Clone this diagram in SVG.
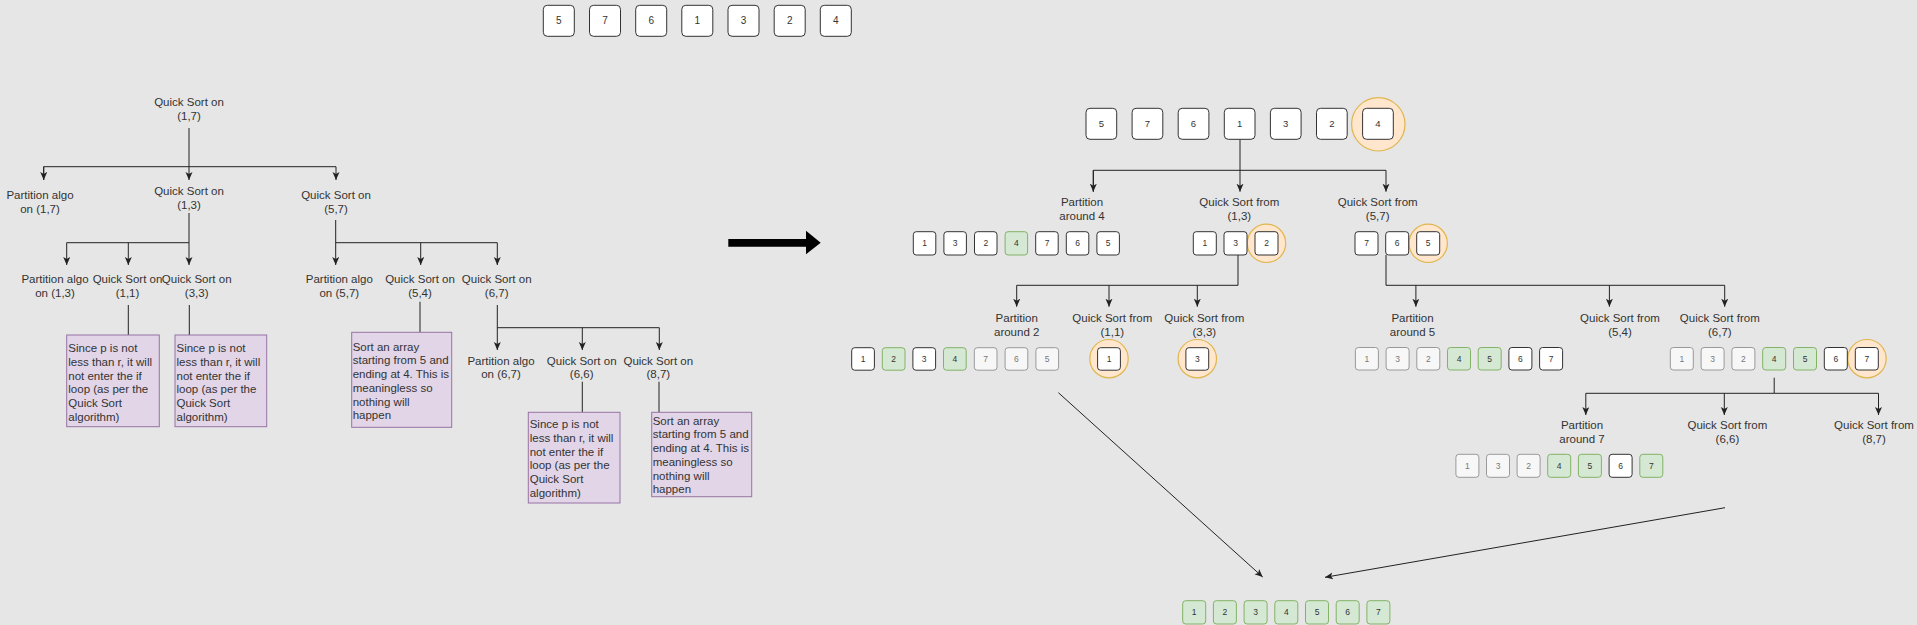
<svg xmlns="http://www.w3.org/2000/svg" width="1917" height="625" viewBox="0 0 1917 625">
<style>
text{font-family:"Liberation Sans",Arial,sans-serif;fill:#333}
.lbl{font-size:11.5px;text-anchor:middle}
.note{font-size:11.5px}
.num{font-size:8.5px;text-anchor:middle}
.bnum{font-size:10px;text-anchor:middle}
.w{fill:#fff;stroke:#333;stroke-width:1}
.g{fill:#d5e8d4;stroke:#82b366;stroke-width:1}
.l{fill:#f7f7f7;stroke:#999;stroke-width:1}
.lt{fill:#777}
.c{fill:#ffe6cc;stroke:#e0b650;stroke-width:1.2}
.p{fill:#e1d5e7;stroke:#9673a6;stroke-width:1}
.e{fill:none;stroke:#222;stroke-width:1}
</style>
<defs>
<marker id="ar" markerUnits="userSpaceOnUse" markerWidth="9" markerHeight="8" refX="8" refY="3.5" orient="auto">
<path d="M0,0 L8,3.5 L0,7 L2,3.5 z" fill="#222"/>
</marker>
</defs>
<rect width="1917" height="625" fill="#e6e6e6"/>

<!-- connectors -->
<g id="connectors">
<path class="e" d="M189,128 V180" marker-end="url(#ar)"/>
<path class="e" d="M43.7,180 V166.7 H336 V180" marker-end="url(#ar)"/>
<path class="e" d="M43.7,166.7 V180" marker-end="url(#ar)"/>
<path class="e" d="M189,213 V265" marker-end="url(#ar)"/>
<path class="e" d="M189,242.7 H66.7 V265" marker-end="url(#ar)"/>
<path class="e" d="M128.3,242.7 V265" marker-end="url(#ar)"/>
<path class="e" d="M335.7,220 V265" marker-end="url(#ar)"/>
<path class="e" d="M335.7,242.7 H497.3 V265" marker-end="url(#ar)"/>
<path class="e" d="M420.7,242.7 V265" marker-end="url(#ar)"/>
<path class="e" d="M128.3,305 V335"/>
<path class="e" d="M189.3,305 V335"/>
<path class="e" d="M420,301.7 V332.3"/>
<path class="e" d="M497.3,305 V350" marker-end="url(#ar)"/>
<path class="e" d="M497.3,327.7 H659.3 V350" marker-end="url(#ar)"/>
<path class="e" d="M582.3,327.7 V350" marker-end="url(#ar)"/>
<path class="e" d="M582.3,381.7 V412.3"/>
<path class="e" d="M659,381.7 V412.3"/>
<polygon points="728.3,239 806,239 806,230.7 820.7,242.8 806,254.3 806,246.7 728.3,246.7" fill="#000"/>
<path class="e" d="M1240,139.3 V191.7" marker-end="url(#ar)"/>
<path class="e" d="M1093.3,191.7 V170.3 H1386 V191.7" marker-end="url(#ar)"/>
<path class="e" d="M1093.3,170.3 V191.7" marker-end="url(#ar)"/>
<path class="e" d="M1238,255 V285.3 H1016.7 V306.7" marker-end="url(#ar)"/>
<path class="e" d="M1109,285.3 V306.7" marker-end="url(#ar)"/>
<path class="e" d="M1197.3,285.3 V306.7" marker-end="url(#ar)"/>
<path class="e" d="M1386,255 V285.3 H1724.7 V306.7" marker-end="url(#ar)"/>
<path class="e" d="M1415.9,285.3 V306.7" marker-end="url(#ar)"/>
<path class="e" d="M1609.4,285.3 V306.7" marker-end="url(#ar)"/>
<path class="e" d="M1774.2,377.7 V393.3 H1585.8 V415" marker-end="url(#ar)"/>
<path class="e" d="M1724.3,393.3 V415" marker-end="url(#ar)"/>
<path class="e" d="M1774.2,393.3 H1878.5 V415" marker-end="url(#ar)"/>
<path class="e" d="M1058.4,392.7 L1262.7,577" marker-end="url(#ar)"/>
<path class="e" d="M1725,507.7 L1325,577.3" marker-end="url(#ar)"/>
</g>

<!-- top initial array -->
<g id="top-array">
<rect class="w" x="543.3" y="5.3" width="31" height="31" rx="4"/><text class="bnum" x="558.8" y="24.3">5</text>
<rect class="w" x="589.5" y="5.3" width="31" height="31" rx="4"/><text class="bnum" x="605" y="24.3">7</text>
<rect class="w" x="635.7" y="5.3" width="31" height="31" rx="4"/><text class="bnum" x="651.2" y="24.3">6</text>
<rect class="w" x="681.8" y="5.3" width="31" height="31" rx="4"/><text class="bnum" x="697.3" y="24.3">1</text>
<rect class="w" x="728" y="5.3" width="31" height="31" rx="4"/><text class="bnum" x="743.5" y="24.3">3</text>
<rect class="w" x="774.2" y="5.3" width="31" height="31" rx="4"/><text class="bnum" x="789.7" y="24.3">2</text>
<rect class="w" x="820.3" y="5.3" width="31" height="31" rx="4"/><text class="bnum" x="835.8" y="24.3">4</text>
</g>

<!-- left tree -->
<g id="qs17"><text class="lbl" x="189" y="106"><tspan x="189">Quick Sort on</tspan><tspan x="189" dy="14">(1,7)</tspan></text></g>
<g id="pa17"><text class="lbl" x="40" y="199"><tspan x="40">Partition algo</tspan><tspan x="40" dy="14">on (1,7)</tspan></text></g>
<g id="qs13"><text class="lbl" x="189" y="194.5"><tspan x="189">Quick Sort on</tspan><tspan x="189" dy="14">(1,3)</tspan></text></g>
<g id="qs57"><text class="lbl" x="336" y="199"><tspan x="336">Quick Sort on</tspan><tspan x="336" dy="14">(5,7)</tspan></text></g>
<g id="pa13"><text class="lbl" x="55" y="283"><tspan x="55">Partition algo</tspan><tspan x="55" dy="14">on (1,3)</tspan></text></g>
<g id="qs11"><text class="lbl" x="127.5" y="283"><tspan x="127.5">Quick Sort on</tspan><tspan x="127.5" dy="14">(1,1)</tspan></text></g>
<g id="qs33"><text class="lbl" x="196.7" y="283"><tspan x="196.7">Quick Sort on</tspan><tspan x="196.7" dy="14">(3,3)</tspan></text></g>
<g id="pa57"><text class="lbl" x="339.3" y="283"><tspan x="339.3">Partition algo</tspan><tspan x="339.3" dy="14">on (5,7)</tspan></text></g>
<g id="qs54"><text class="lbl" x="420" y="283"><tspan x="420">Quick Sort on</tspan><tspan x="420" dy="14">(5,4)</tspan></text></g>
<g id="qs67"><text class="lbl" x="496.7" y="283"><tspan x="496.7">Quick Sort on</tspan><tspan x="496.7" dy="14">(6,7)</tspan></text></g>
<g id="pa67"><text class="lbl" x="501" y="364.7"><tspan x="501">Partition algo</tspan><tspan x="501" dy="13.6">on (6,7)</tspan></text></g>
<g id="qs66"><text class="lbl" x="581.7" y="364.7"><tspan x="581.7">Quick Sort on</tspan><tspan x="581.7" dy="13.6">(6,6)</tspan></text></g>
<g id="qs87"><text class="lbl" x="658.3" y="364.7"><tspan x="658.3">Quick Sort on</tspan><tspan x="658.3" dy="13.6">(8,7)</tspan></text></g>

<g id="note1"><rect class="p" x="66.7" y="335" width="92.6" height="91.7"/>
<text class="note" x="68.3" y="352.3"><tspan x="68.3">Since p is not</tspan><tspan x="68.3" dy="13.7">less than r, it will</tspan><tspan x="68.3" dy="13.7">not enter the if</tspan><tspan x="68.3" dy="13.7">loop (as per the</tspan><tspan x="68.3" dy="13.7">Quick Sort</tspan><tspan x="68.3" dy="13.7">algorithm)</tspan></text></g>
<g id="note2"><rect class="p" x="175" y="335" width="91.7" height="91.7"/>
<text class="note" x="176.5" y="352.3"><tspan x="176.5">Since p is not</tspan><tspan x="176.5" dy="13.7">less than r, it will</tspan><tspan x="176.5" dy="13.7">not enter the if</tspan><tspan x="176.5" dy="13.7">loop (as per the</tspan><tspan x="176.5" dy="13.7">Quick Sort</tspan><tspan x="176.5" dy="13.7">algorithm)</tspan></text></g>
<g id="note3"><rect class="p" x="351.7" y="332.3" width="100" height="95"/>
<text class="note" x="352.7" y="350.7"><tspan x="352.7">Sort an array</tspan><tspan x="352.7" dy="13.7">starting from 5 and</tspan><tspan x="352.7" dy="13.7">ending at 4. This is</tspan><tspan x="352.7" dy="13.7">meaningless so</tspan><tspan x="352.7" dy="13.7">nothing will</tspan><tspan x="352.7" dy="13.7">happen</tspan></text></g>
<g id="note4"><rect class="p" x="528.3" y="412.3" width="91.7" height="90.7"/>
<text class="note" x="529.7" y="428.3"><tspan x="529.7">Since p is not</tspan><tspan x="529.7" dy="13.7">less than r, it will</tspan><tspan x="529.7" dy="13.7">not enter the if</tspan><tspan x="529.7" dy="13.7">loop (as per the</tspan><tspan x="529.7" dy="13.7">Quick Sort</tspan><tspan x="529.7" dy="13.7">algorithm)</tspan></text></g>
<g id="note5"><rect class="p" x="651.7" y="412.3" width="100" height="84.4"/>
<text class="note" x="652.7" y="424.7"><tspan x="652.7">Sort an array</tspan><tspan x="652.7" dy="13.7">starting from 5 and</tspan><tspan x="652.7" dy="13.7">ending at 4. This is</tspan><tspan x="652.7" dy="13.7">meaningless so</tspan><tspan x="652.7" dy="13.7">nothing will</tspan><tspan x="652.7" dy="13.7">happen</tspan></text></g>

<!-- right tree -->
<g id="r-array">
<circle class="c" cx="1378.3" cy="124.3" r="26.7"/>
<rect class="w" x="1086" y="108.3" width="30.7" height="31" rx="4"/><text class="num" style="font-size:9.5px" x="1101.3" y="127">5</text>
<rect class="w" x="1132.1" y="108.3" width="30.7" height="31" rx="4"/><text class="num" style="font-size:9.5px" x="1147.4" y="127">7</text>
<rect class="w" x="1178.2" y="108.3" width="30.7" height="31" rx="4"/><text class="num" style="font-size:9.5px" x="1193.5" y="127">6</text>
<rect class="w" x="1224.3" y="108.3" width="30.7" height="31" rx="4"/><text class="num" style="font-size:9.5px" x="1239.6" y="127">1</text>
<rect class="w" x="1270.4" y="108.3" width="30.7" height="31" rx="4"/><text class="num" style="font-size:9.5px" x="1285.7" y="127">3</text>
<rect class="w" x="1316.5" y="108.3" width="30.7" height="31" rx="4"/><text class="num" style="font-size:9.5px" x="1331.8" y="127">2</text>
<rect class="w" x="1362.6" y="108.3" width="30.7" height="31" rx="4"/><text class="num" style="font-size:9.5px" x="1377.9" y="127">4</text>
</g>
<g id="rp4"><text class="lbl" x="1082" y="206.3"><tspan x="1082">Partition</tspan><tspan x="1082" dy="13.6">around 4</tspan></text></g>
<g id="rq13"><text class="lbl" x="1239.3" y="206.3"><tspan x="1239.3">Quick Sort from</tspan><tspan x="1239.3" dy="13.6">(1,3)</tspan></text></g>
<g id="rq57"><text class="lbl" x="1377.7" y="206.3"><tspan x="1377.7">Quick Sort from</tspan><tspan x="1377.7" dy="13.6">(5,7)</tspan></text></g>

<g id="arr-p4">
<rect class="w" x="913.3" y="231.7" width="22.5" height="23.3" rx="3"/><text class="num" x="924.6" y="246.3">1</text>
<rect class="w" x="943.9" y="231.7" width="22.5" height="23.3" rx="3"/><text class="num" x="955.2" y="246.3">3</text>
<rect class="w" x="974.5" y="231.7" width="22.5" height="23.3" rx="3"/><text class="num" x="985.8" y="246.3">2</text>
<rect class="g" x="1005.1" y="231.7" width="22.5" height="23.3" rx="3"/><text class="num" x="1016.4" y="246.3">4</text>
<rect class="w" x="1035.7" y="231.7" width="22.5" height="23.3" rx="3"/><text class="num" x="1047" y="246.3">7</text>
<rect class="w" x="1066.3" y="231.7" width="22.5" height="23.3" rx="3"/><text class="num" x="1077.6" y="246.3">6</text>
<rect class="w" x="1096.9" y="231.7" width="22.5" height="23.3" rx="3"/><text class="num" x="1108.2" y="246.3">5</text>
</g>
<g id="arr-13">
<circle class="c" cx="1266.5" cy="243.3" r="19.2"/>
<rect class="w" x="1193.3" y="231.7" width="23" height="23.3" rx="3"/><text class="num" x="1204.8" y="246.3">1</text>
<rect class="w" x="1224" y="231.7" width="23" height="23.3" rx="3"/><text class="num" x="1235.5" y="246.3">3</text>
<rect class="w" x="1255" y="231.7" width="23" height="23.3" rx="3"/><text class="num" x="1266.5" y="246.3">2</text>
</g>
<g id="arr-57">
<circle class="c" cx="1428.2" cy="243.3" r="19.2"/>
<rect class="w" x="1355" y="231.7" width="23" height="23.3" rx="3"/><text class="num" x="1366.5" y="246.3">7</text>
<rect class="w" x="1385.7" y="231.7" width="23" height="23.3" rx="3"/><text class="num" x="1397.2" y="246.3">6</text>
<rect class="w" x="1416.7" y="231.7" width="23" height="23.3" rx="3"/><text class="num" x="1428.2" y="246.3">5</text>
</g>

<g id="rp2"><text class="lbl" x="1016.7" y="321.7"><tspan x="1016.7">Partition</tspan><tspan x="1016.7" dy="14">around 2</tspan></text></g>
<g id="rq11"><text class="lbl" x="1112.3" y="321.7"><tspan x="1112.3">Quick Sort from</tspan><tspan x="1112.3" dy="14">(1,1)</tspan></text></g>
<g id="rq33"><text class="lbl" x="1204.3" y="321.7"><tspan x="1204.3">Quick Sort from</tspan><tspan x="1204.3" dy="14">(3,3)</tspan></text></g>
<g id="rp5"><text class="lbl" x="1412.5" y="321.7"><tspan x="1412.5">Partition</tspan><tspan x="1412.5" dy="14">around 5</tspan></text></g>
<g id="rq54"><text class="lbl" x="1620" y="321.7"><tspan x="1620">Quick Sort from</tspan><tspan x="1620" dy="14">(5,4)</tspan></text></g>
<g id="rq67"><text class="lbl" x="1719.8" y="321.7"><tspan x="1719.8">Quick Sort from</tspan><tspan x="1719.8" dy="14">(6,7)</tspan></text></g>

<g id="arr-p2">
<rect class="w" x="851.7" y="347.7" width="22.7" height="22.5" rx="3"/><text class="num" x="863" y="362">1</text>
<rect class="g" x="882.3" y="347.7" width="22.7" height="22.5" rx="3"/><text class="num" x="893.6" y="362">2</text>
<rect class="w" x="912.9" y="347.7" width="22.7" height="22.5" rx="3"/><text class="num" x="924.2" y="362">3</text>
<rect class="g" x="943.5" y="347.7" width="22.7" height="22.5" rx="3"/><text class="num" x="954.8" y="362">4</text>
<rect class="l" x="974.3" y="347.7" width="22.7" height="22.5" rx="3"/><text class="num lt" x="985.6" y="362">7</text>
<rect class="l" x="1005.1" y="347.7" width="22.7" height="22.5" rx="3"/><text class="num lt" x="1016.4" y="362">6</text>
<rect class="l" x="1035.9" y="347.7" width="22.7" height="22.5" rx="3"/><text class="num lt" x="1047.2" y="362">5</text>
</g>
<g id="arr-11">
<circle class="c" cx="1109" cy="358.7" r="19.2"/>
<rect class="w" x="1097.6" y="347.7" width="22.8" height="22.5" rx="3"/><text class="num" x="1109" y="362">1</text>
</g>
<g id="arr-33">
<circle class="c" cx="1197.3" cy="358.7" r="19.2"/>
<rect class="w" x="1185.9" y="347.7" width="22.8" height="22.5" rx="3"/><text class="num" x="1197.3" y="362">3</text>
</g>
<g id="arr-p5">
<rect class="l" x="1355.4" y="347.5" width="23" height="22.5" rx="3"/><text class="num lt" x="1366.9" y="362">1</text>
<rect class="l" x="1386.1" y="347.5" width="23" height="22.5" rx="3"/><text class="num lt" x="1397.6" y="362">3</text>
<rect class="l" x="1416.8" y="347.5" width="23" height="22.5" rx="3"/><text class="num lt" x="1428.3" y="362">2</text>
<rect class="g" x="1447.5" y="347.5" width="23" height="22.5" rx="3"/><text class="num" x="1459" y="362">4</text>
<rect class="g" x="1478.2" y="347.5" width="23" height="22.5" rx="3"/><text class="num" x="1489.7" y="362">5</text>
<rect class="w" x="1508.9" y="347.5" width="23" height="22.5" rx="3"/><text class="num" x="1520.4" y="362">6</text>
<rect class="w" x="1539.6" y="347.5" width="23" height="22.5" rx="3"/><text class="num" x="1551.1" y="362">7</text>
</g>
<g id="arr-67">
<circle class="c" cx="1867" cy="358.7" r="19.2"/>
<rect class="l" x="1670.3" y="347.5" width="23" height="22.5" rx="3"/><text class="num lt" x="1681.8" y="362">1</text>
<rect class="l" x="1701.1" y="347.5" width="23" height="22.5" rx="3"/><text class="num lt" x="1712.6" y="362">3</text>
<rect class="l" x="1731.9" y="347.5" width="23" height="22.5" rx="3"/><text class="num lt" x="1743.4" y="362">2</text>
<rect class="g" x="1762.7" y="347.5" width="23" height="22.5" rx="3"/><text class="num" x="1774.2" y="362">4</text>
<rect class="g" x="1793.5" y="347.5" width="23" height="22.5" rx="3"/><text class="num" x="1805" y="362">5</text>
<rect class="w" x="1824.3" y="347.5" width="23" height="22.5" rx="3"/><text class="num" x="1835.8" y="362">6</text>
<rect class="w" x="1855.3" y="347.5" width="23" height="22.5" rx="3"/><text class="num" x="1866.8" y="362">7</text>
</g>

<g id="rp7"><text class="lbl" x="1582" y="429.3"><tspan x="1582">Partition</tspan><tspan x="1582" dy="14">around 7</tspan></text></g>
<g id="rq66"><text class="lbl" x="1727.4" y="429.3"><tspan x="1727.4">Quick Sort from</tspan><tspan x="1727.4" dy="14">(6,6)</tspan></text></g>
<g id="rq87"><text class="lbl" x="1874" y="429.3"><tspan x="1874">Quick Sort from</tspan><tspan x="1874" dy="14">(8,7)</tspan></text></g>

<g id="arr-p7">
<rect class="l" x="1455.9" y="454.3" width="23" height="23" rx="3"/><text class="num lt" x="1467.4" y="469">1</text>
<rect class="l" x="1486.5" y="454.3" width="23" height="23" rx="3"/><text class="num lt" x="1498" y="469">3</text>
<rect class="l" x="1517.1" y="454.3" width="23" height="23" rx="3"/><text class="num lt" x="1528.6" y="469">2</text>
<rect class="g" x="1547.7" y="454.3" width="23" height="23" rx="3"/><text class="num" x="1559.2" y="469">4</text>
<rect class="g" x="1578.4" y="454.3" width="23" height="23" rx="3"/><text class="num" x="1589.9" y="469">5</text>
<rect class="w" x="1609.1" y="454.3" width="23" height="23" rx="3"/><text class="num" x="1620.6" y="469">6</text>
<rect class="g" x="1639.8" y="454.3" width="23" height="23" rx="3"/><text class="num" x="1651.3" y="469">7</text>
</g>

<g id="final-array">
<rect class="g" x="1182.7" y="600.7" width="23" height="23.3" rx="3"/><text class="num" x="1194.2" y="615.3">1</text>
<rect class="g" x="1213.4" y="600.7" width="23" height="23.3" rx="3"/><text class="num" x="1224.9" y="615.3">2</text>
<rect class="g" x="1244.1" y="600.7" width="23" height="23.3" rx="3"/><text class="num" x="1255.6" y="615.3">3</text>
<rect class="g" x="1274.8" y="600.7" width="23" height="23.3" rx="3"/><text class="num" x="1286.3" y="615.3">4</text>
<rect class="g" x="1305.5" y="600.7" width="23" height="23.3" rx="3"/><text class="num" x="1317" y="615.3">5</text>
<rect class="g" x="1336.2" y="600.7" width="23" height="23.3" rx="3"/><text class="num" x="1347.7" y="615.3">6</text>
<rect class="g" x="1366.9" y="600.7" width="23" height="23.3" rx="3"/><text class="num" x="1378.4" y="615.3">7</text>
</g>
</svg>
